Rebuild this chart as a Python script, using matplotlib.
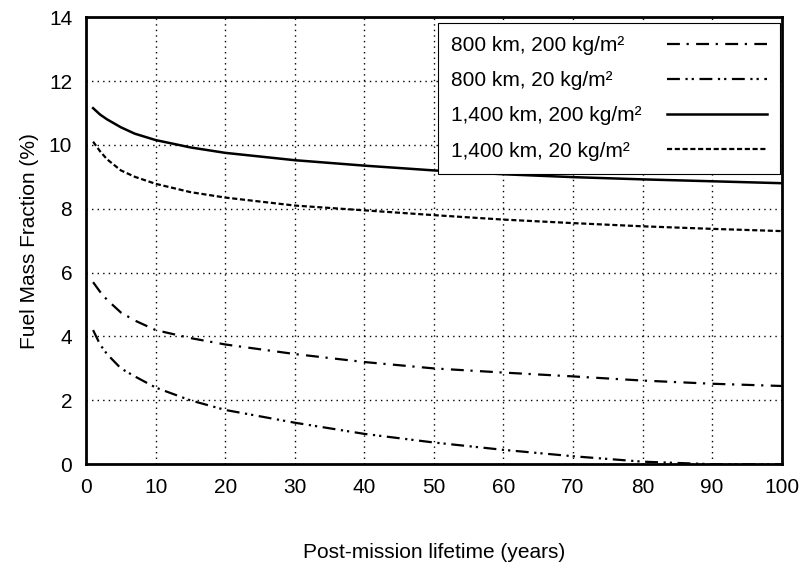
import numpy as np
import matplotlib.pyplot as plt

plt.rcParams['font.family'] = ['Liberation Sans', 'DejaVu Sans']

# Post-mission lifetime (years)
years = [1, 2, 3, 5, 7, 10, 15, 20, 30, 40, 50, 60, 70, 80, 90, 100]

# Fuel mass fraction (%)
km800_200 = [5.7, 5.4, 5.15, 4.75, 4.5, 4.2, 3.95, 3.75, 3.45, 3.2, 3.0, 2.87, 2.75, 2.62, 2.52, 2.45]
km800_20 = [4.2, 3.75, 3.45, 3.0, 2.75, 2.4, 2.0, 1.7, 1.3, 0.95, 0.68, 0.45, 0.25, 0.08, 0.0, 0.0]
km1400_200 = [11.15, 10.95, 10.8, 10.55, 10.35, 10.15, 9.92, 9.75, 9.52, 9.35, 9.2, 9.08, 8.99, 8.92, 8.86, 8.8]
km1400_20 = [10.1, 9.8, 9.55, 9.2, 9.0, 8.78, 8.52, 8.35, 8.1, 7.95, 7.8, 7.66, 7.55, 7.45, 7.37, 7.3]

labels = ['800 km, 200 kg/m²', '800 km, 20 kg/m²',
          '1,400 km, 200 kg/m²', '1,400 km, 20 kg/m²']

fs = 15

fig = plt.figure(figsize=(8.05, 5.71), dpi=100)
ax = fig.add_axes([0.107, 0.187, 0.864, 0.783])

ax.plot(years, km800_200, color='black', lw=1.6, dashes=(5.8, 3, 1, 3.3), label=labels[0])
ax.plot(years, km800_20, color='black', lw=1.6, dashes=(5.8, 2.5, 1, 1.8, 1, 2.5), label=labels[1])
ax.plot(years, km1400_200, color='black', lw=1.8, label=labels[2])
ax.plot(years, km1400_20, color='black', lw=1.6, dashes=(2.3, 1.2), label=labels[3])

ax.set_xlim(0, 100)
ax.set_ylim(0, 14)
ax.set_xticks(np.arange(0, 101, 10))
ax.set_yticks(np.arange(0, 15, 2))
ax.grid(True, color='black', linestyle=(0, (1, 3)), lw=1.0)
ax.tick_params(labelsize=fs, length=0, pad=10)
for s in ax.spines.values():
    s.set_linewidth(2)

ax.set_xlabel('Post-mission lifetime (years)', fontsize=fs, labelpad=33)
ax.set_ylabel('Fuel Mass Fraction (%)', fontsize=fs, labelpad=7)

leg = ax.legend(loc='upper right', markerfirst=False, fontsize=fs, handlelength=4.8,
                handletextpad=1.2, fancybox=False, edgecolor='black', framealpha=1,
                borderpad=0.62, labelspacing=0.78, borderaxespad=0,
                bbox_to_anchor=(0.997, 0.987))
leg.get_frame().set_linewidth(0.8)

# left-align the label texts while keeping the line samples on the right
fig.canvas.draw()
rend = fig.canvas.get_renderer()
widths = [t.get_window_extent(rend).width for t in leg.get_texts()]
dpi_cor = rend.points_to_pixels(1.0)
rows = leg._legend_handle_box.get_children()[0].get_children()
for row, w in zip(rows, widths):
    row.sep += (max(widths) - w) / dpi_cor

fig.savefig('out.png', dpi=100)
